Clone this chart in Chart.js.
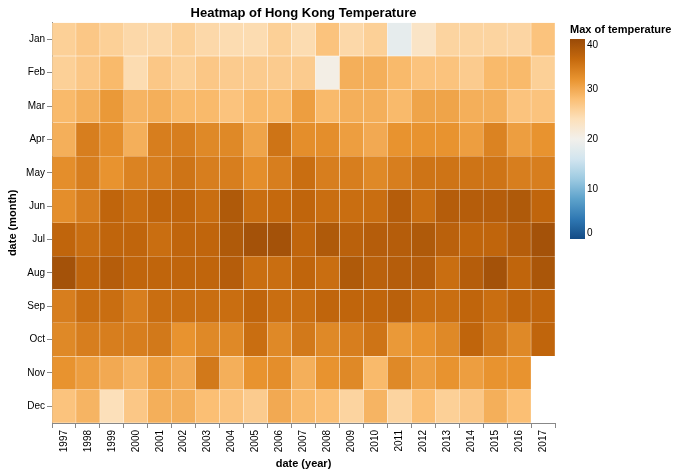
<html lang="en">
<head>
    <title>Heatmap of Hong Kong Temperature</title>
    <script src="https://cdn.jsdelivr.net/npm/chart.js@4.4.0/dist/chart.umd.min.js"></script>
    <style>
        body { margin: 0; background: #fff; }
        #wrap { width: 678px; height: 476px; }
    </style>
</head>
<body>
<div id="wrap"><canvas id="heat" width="678" height="476"></canvas></div>
<script>
    const years = ['1997', '1998', '1999', '2000', '2001', '2002', '2003', '2004', '2005', '2006', '2007',
        '2008', '2009', '2010', '2011', '2012', '2013', '2014', '2015', '2016', '2017'];
    const months = ['Jan', 'Feb', 'Mar', 'Apr', 'May', 'Jun', 'Jul', 'Aug', 'Sep', 'Oct', 'Nov', 'Dec'];

    // max temperature per month, one value per year (null = no data)
    const jan = [26, 27, 26, 25, 25, 26, 25, 24.5, 24.5, 26, 24.5, 27.5, 25, 26, 18.5, 23, 25.5, 25.5, 25.5, 25.3, 27.5];
    const feb = [26, 27, 28.5, 24.5, 27, 26, 27, 26.5, 26.5, 26.5, 26.5, 20.5, 29.5, 29.5, 28.5, 27.5, 27.5, 26.5, 28.5, 28.5, 26];
    const mar = [28.5, 29.5, 31.5, 29, 29.5, 28.5, 28.5, 27.5, 28.5, 28.5, 31, 28.5, 29.5, 29.5, 28.5, 30.5, 30.5, 29.5, 29.5, 27.5, 27.5];
    const apr = [29.5, 34, 32.5, 29.5, 34, 34, 33, 33, 30.5, 35, 32.5, 32.5, 31, 30, 32, 32, 32, 31, 33.5, 31, 32];
    const may = [32.5, 34, 32, 33.5, 34, 35, 34, 34, 32.5, 34, 35.5, 34, 34, 33, 34, 35, 35, 35, 35, 34, 34];
    const jun = [32.5, 34, 36.5, 35.5, 36.5, 36.5, 35.5, 38, 35.5, 36, 36.5, 35.5, 35.5, 35.5, 37.5, 35.5, 37.5, 37.5, 37.5, 38, 36.5];
    const jul = [36.5, 35.5, 36.5, 36.5, 35.5, 36.5, 36.5, 38, 39, 39, 36.5, 38, 37, 37.5, 37.5, 38, 37, 36.5, 36.5, 37.5, 39];
    const aug = [39, 36.5, 37.5, 36.5, 36.5, 36.5, 36.5, 37.5, 35.5, 35.5, 36.5, 35.5, 38, 37, 37.5, 37.5, 35.5, 37.5, 39, 36.5, 38.5];
    const sep = [34, 35.5, 35.5, 34, 35.5, 35.5, 35.5, 35.5, 36.5, 35.5, 35.5, 36.5, 36.5, 36.5, 37, 35.5, 35.5, 36.5, 35.5, 36.5, 36.5];
    const oct = [33, 34, 34, 34, 34.5, 32, 33, 33, 35.5, 33, 34.5, 33, 34, 35, 31.5, 32, 33, 36.5, 34.5, 33, 36.5];
    const nov = [32, 31, 30, 29, 31, 30, 34.5, 29.5, 32, 32.5, 29.5, 32, 33, 28.5, 33, 31, 32, 31, 32, 32, null];
    const dec = [27.5, 29, 24, 27, 29.5, 29.5, 28, 27.5, 26.5, 30, 28.5, 28, 25.5, 29, 25.5, 28, 26, 27, 29.5, 28, null];

    const temps = [jan, feb, mar, apr, may, jun, jul, aug, sep, oct, nov, dec];
    const legendTicks = [0, 10, 20, 30, 40];
    const colorMax = 40;

    // blue-orange diverging scheme
    const scheme = ['#134b85', '#2f78b3', '#5da2cb', '#9dcae1', '#d2e5ef', '#f2f0eb',
        '#fce0ba', '#fbbf74', '#e8932f', '#c5690d', '#994a07'];

    function hexToRgb(h) {
        return [parseInt(h.substr(1, 2), 16), parseInt(h.substr(3, 2), 16), parseInt(h.substr(5, 2), 16)];
    }

    function colorFor(v) {
        let t = Math.max(0, Math.min(1, v / colorMax)) * (scheme.length - 1);
        let i = Math.min(Math.floor(t), scheme.length - 2);
        let f = t - i;
        let a = hexToRgb(scheme[i]), b = hexToRgb(scheme[i + 1]);
        let c = a.map((x, k) => Math.round(x + (b[k] - x) * f));
        return 'rgb(' + c.join(',') + ')';
    }

    const datasets = months.map((m, i) => ({
        label: m,
        data: temps[i].map(v => v === null ? null : [i, i + 1]),
        backgroundColor: temps[i].map(v => v === null ? 'rgba(0,0,0,0)' : colorFor(v)),
        borderColor: 'rgba(255,255,255,0.1)',
        borderWidth: 0.5,
        borderSkipped: false,
        grouped: false,
        categoryPercentage: 1,
        barPercentage: 1
    }));

    const colorLegend = {
        id: 'colorLegend',
        afterDraw(chart) {
            const ctx = chart.ctx;
            const x = 570, top = 39, w = 15, h = 200;
            ctx.save();
            ctx.fillStyle = '#000';
            ctx.font = 'bold 11px "Liberation Sans", Arial, sans-serif';
            ctx.textBaseline = 'alphabetic';
            ctx.textAlign = 'left';
            ctx.fillText('Max of temperature', 570, 33);

            let grad = ctx.createLinearGradient(0, top + h, 0, top);
            for (let s = 0; s <= 40; s++) {
                grad.addColorStop(s / 40, colorFor(s / 40 * colorMax));
            }
            ctx.fillStyle = grad;
            ctx.fillRect(x, top, w, h);

            ctx.font = '10px "Liberation Sans", Arial, sans-serif';
            ctx.fillStyle = '#000';
            legendTicks.forEach(v => {
                let y = top + h - v / colorMax * h;
                if (v === colorMax) {
                    ctx.textBaseline = 'top';
                    y += 1;
                } else if (v === 0) {
                    ctx.textBaseline = 'bottom';
                    y -= 1;
                } else {
                    ctx.textBaseline = 'middle';
                }
                ctx.fillText(String(v), x + w + 2, y);
            });
            ctx.restore();
        }
    };

    new Chart(document.getElementById('heat'), {
        type: 'bar',
        data: {labels: years, datasets: datasets},
        plugins: [colorLegend],
        options: {
            responsive: false,
            animation: false,
            layout: {padding: {left: 0, right: 123, top: 0, bottom: 0}},
            plugins: {
                legend: {display: false},
                tooltip: {enabled: false},
                title: {
                    display: true,
                    text: 'Heatmap of Hong Kong Temperature',
                    fullSize: false,
                    color: '#000',
                    font: {family: '"Liberation Sans", Arial, sans-serif', size: 13, weight: 'bold'},
                    padding: {top: 6, bottom: 1}
                }
            },
            scales: {
                x: {
                    type: 'category',
                    offset: true,
                    grid: {drawOnChartArea: false, tickLength: 5, color: '#888'},
                    border: {color: '#888'},
                    ticks: {
                        minRotation: 90, maxRotation: 90, padding: 2, color: '#000',
                        font: {family: '"Liberation Sans", Arial, sans-serif', size: 10}
                    },
                    title: {
                        display: true, text: 'date (year)', color: '#000',
                        font: {family: '"Liberation Sans", Arial, sans-serif', size: 11, weight: 'bold'},
                        padding: {top: 4, bottom: 5}
                    },
                    afterFit(scale) { scale.height = 53; }
                },
                y: {
                    type: 'linear',
                    min: 0,
                    max: 12,
                    reverse: true,
                    afterBuildTicks(scale) {
                        scale.ticks = months.map((m, i) => ({value: i + 0.5}));
                    },
                    grid: {drawOnChartArea: false, tickLength: 5, color: '#888'},
                    border: {color: '#888'},
                    ticks: {
                        padding: 2, color: '#000', autoSkip: false,
                        font: {family: '"Liberation Sans", Arial, sans-serif', size: 10},
                        callback: v => months[Math.floor(v)]
                    },
                    title: {
                        display: true, text: 'date (month)', color: '#000',
                        font: {family: '"Liberation Sans", Arial, sans-serif', size: 11, weight: 'bold'},
                        padding: {top: 6, bottom: 4}
                    },
                    afterFit(scale) { scale.width = 52; }
                }
            }
        }
    });
</script>
</body>
</html>
